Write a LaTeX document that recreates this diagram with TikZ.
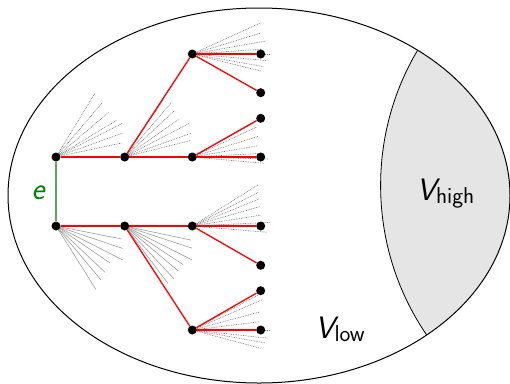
\documentclass[tikz,border=0pt]{standalone}
\pgfdeclarelayer{under}
\pgfsetlayers{under,main}
\definecolor{edgegreen}{RGB}{90,168,90}
\definecolor{labelgreen}{RGB}{0,128,0}
\definecolor{regiongray}{RGB}{229,229,229}
% slanted V with an upright, lowered subscript word
\newcommand\vsetlabel[1]{{\fontsize{31}{36}\selectfont\slshape V}\raisebox{-3.5pt}{\fontsize{23}{28}\selectfont #1}}
% a fan of short strokes leaving a vertex: list of angle/length pairs
\newcommand\drawfan[3]{\foreach \a/\l in {#2} \draw[#3] (#1.center) -- ++(\a:\l);}
\tikzset{
  vertex/.style={circle,fill=black,inner sep=0pt,minimum size=9pt},
  treeedge/.style={red,line width=1.3pt},
  matchedge/.style={edgegreen,line width=1.4pt},
  fandot/.style={black!55,line width=0.6pt,dash pattern=on 0.8pt off 0.9pt},
  fansolid/.style={black!38,line width=0.6pt},
  outline/.style={black,line width=1pt},
  setlbl/.style={inner sep=0pt,anchor=base west,font=\sffamily},
}
\begin{document}
\begin{tikzpicture}[x=1pt,y=-1pt]
\useasboundingbox (0,0) rectangle (510,383);

% the shaded high part, cut out of the big ellipse by a circle
\begin{scope}
  \clip (259,195.5) ellipse [x radius=251pt, y radius=187.5pt];
  \fill[regiongray,draw=black,line width=0.8pt] (646.2,185.5) circle [radius=265.6pt];
\end{scope}
\draw[outline] (259,195.5) ellipse [x radius=251pt, y radius=187.5pt];

% vertices
\node[vertex] (a1) at (56,157) {};
\node[vertex] (a2) at (56,226) {};
\node[vertex] (b1) at (124.7,157) {};
\node[vertex] (b2) at (124.7,226) {};
\node[vertex] (c1) at (192.3,54) {};
\node[vertex] (c2) at (192.3,157) {};
\node[vertex] (c3) at (192.3,226) {};
\node[vertex] (c4) at (192.3,330) {};
\node[vertex] (l1) at (260.7,54) {};
\node[vertex] (l2) at (260.7,92.7) {};
\node[vertex] (l3) at (260.7,118.3) {};
\node[vertex] (l4) at (260.7,157) {};
\node[vertex] (l5) at (260.7,226) {};
\node[vertex] (l6) at (260.7,265.3) {};
\node[vertex] (l7) at (260.7,290.7) {};
\node[vertex] (l8) at (260.7,330) {};

\begin{pgfonlayer}{under}
  % fans of further neighbours
  \drawfan{a1}{-12/67.5,-19.7/71,-26.9/75,-31.2/71.3,-40.3/69.5,-49.6/71,-58.6/75}{fandot}
  \drawfan{a2}{11.2/67,18.6/70.4,27/74.9,34.4/65.5,43.3/67.7,50.2/69.9,57.8/75}{fansolid}
  \drawfan{b1}{-14/68,-19.7/70.4,-27.6/74.8,-34.8/66.5,-43/67.4,-49.4/70.7,-56/70}{fandot}
  \drawfan{b2}{12/68,18.2/71,26.7/75,33.5/70,40/70,47/72,53/72}{fansolid}
  \drawfan{c1}{-24.5/75,-17/72,-10/75,-4/70,0/77,5/75,10/72,14/71}{fandot}
  \drawfan{c2}{-29/70,-25/71,-17.4/70,-9.7/66.5,-3/72,1.5/76,5/72}{fandot}
  \drawfan{c3}{-32/78,-27/74,-22/72,-16/70,-9/69,-2.7/78,0/73,4.8/75}{fandot}
  \drawfan{c4}{-28/74,-23.4/75.6,-15/70,-7/68,0/78,6.2/76.5,10/74,15/70.8}{fandot}

  % tree edges
  \draw[treeedge] (a1) -- (b1);
  \draw[treeedge] (b1) -- (c1);
  \draw[treeedge] (b1) -- (c2);
  \draw[treeedge] (c1) -- (l1);
  \draw[treeedge] (c1) -- (l2);
  \draw[treeedge] (c2) -- (l3);
  \draw[treeedge] (c2) -- (l4);
  \draw[treeedge] (a2) -- (b2);
  \draw[treeedge] (b2) -- (c3);
  \draw[treeedge] (b2) -- (c4);
  \draw[treeedge] (c3) -- (l5);
  \draw[treeedge] (c3) -- (l6);
  \draw[treeedge] (c4) -- (l7);
  \draw[treeedge] (c4) -- (l8);

  % the edge e
  \draw[matchedge] (a1) -- (a2);
\end{pgfonlayer}

% labels
\node[setlbl,text=labelgreen] (elbl) at (31.5,199.3) {\fontsize{31}{36}\selectfont\slshape e};
\node[setlbl] (vhigh) at (416.5,200) {\vsetlabel{high}};
\node[setlbl] (vlow) at (315,338.3) {\vsetlabel{low}};
\end{tikzpicture}
\end{document}
